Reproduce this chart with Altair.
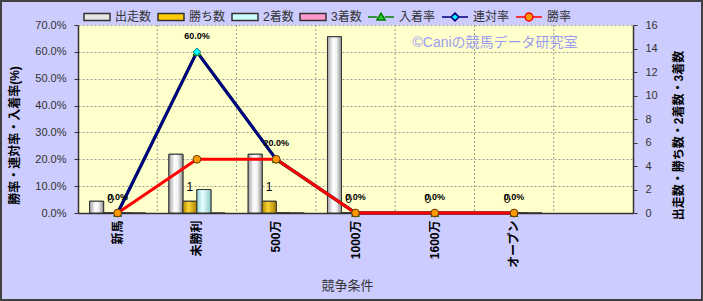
import altair as alt
import pandas as pd

# ---------------- data ----------------
categories = ["新馬", "未勝利", "500万", "1000万", "1600万", "オープン"]
cat_domain = categories + [" "]
starts = [1, 5, 5, 15, 0, 0]
wins = [0, 1, 1, 0, 0, 0]
seconds = [0, 2, 0, 0, 0, 0]
thirds = [0, 0, 0, 0, 0, 0]
place_rate = [0.0, 0.6, 0.2, 0.0, 0.0, 0.0]
rentai_rate = [0.0, 0.6, 0.2, 0.0, 0.0, 0.0]
win_rate = [0.0, 0.2, 0.2, 0.0, 0.0, 0.0]

bar_series = ["出走数", "勝ち数", "2着数", "3着数"]
line_series = ["入着率", "連対率", "勝率"]
all_series = bar_series + line_series
watermark = "©Caniの競馬データ研究室"

bar_rows = []
for s, vals in zip(bar_series, [starts, wins, seconds, thirds]):
    for c, v in zip(categories, vals):
        bar_rows.append({"cat": c, "series": s, "count": v})
bars_df = pd.DataFrame(bar_rows)

rate_rows = []
for s, vals in zip(line_series, [place_rate, rentai_rate, win_rate]):
    for i, (c, v) in enumerate(zip(categories, vals)):
        rate_rows.append({"cat": c, "series": s, "rate": v, "idx": i})
rates_df = pd.DataFrame(rate_rows)

grid_df = pd.DataFrame({"cat": cat_domain[1:]})
wm_df = pd.DataFrame({"t": [watermark]})

# ---------------- styles ----------------
FONT = "Liberation Sans, Noto Sans CJK JP, sans-serif"

rect_path = "M-1,-0.27H1V0.27H-1Z"
tri_path = "M-1,0H-0.3M0.3,0H1M0,-0.3L0.32,0.24L-0.32,0.24Z"
dia_path = "M-1,0H-0.3M0.3,0H1M0,-0.3L0.3,0L0,0.3L-0.3,0Z"
cir_path = "M-1,0H-0.3M0.3,0H1M-0.3,0A0.3,0.3 0 1,0 0.3,0A0.3,0.3 0 1,0 -0.3,0Z"

fill_scale = alt.Scale(domain=all_series,
                       range=["#E6E6E6", "#FFCC00", "#CCFFFF", "#FF99CC",
                              "#33CC33", "#00FFFF", "#FF9900"])
stroke_scale = alt.Scale(domain=all_series,
                         range=["#333333", "#333333", "#333333", "#333333",
                                "#008000", "#000080", "#FF0000"])
shape_scale = alt.Scale(domain=all_series,
                        range=[rect_path, rect_path, rect_path, rect_path,
                               tri_path, dia_path, cir_path])

leg = alt.Legend(title=None, orient="none", legendX=5, legendY=-22,
                 direction="horizontal", symbolSize=676, symbolStrokeWidth=1.5,
                 labelFont=FONT, labelFontSize=12, labelColor="#333333",
                 labelOffset=4, columnPadding=3, gridAlign="none")

x_axis = alt.Axis(labelAngle=270, labelFont=FONT, labelFontSize=12,
                  labelFontWeight="bold", labelColor="#000000", labelPadding=7,
                  ticks=False, grid=False, domainColor="#333333", domainWidth=1.5,
                  title="競争条件", titleFont=FONT, titleFontSize=13,
                  titleFontWeight="normal", titleColor="#333333",
                  titleX=269, titleY=72, titleBaseline="middle", titleAlign="center")

x_scale = alt.Scale(domain=cat_domain, paddingInner=0, paddingOuter=0)


def xenc(**kw):
    return alt.X("cat:N", scale=x_scale, axis=x_axis, **kw)


left_axis = alt.Axis(orient="left", format=".1%",
                     values=[0, 0.1, 0.2, 0.3, 0.4, 0.5, 0.6, 0.7],
                     grid=True, gridColor="#9A9A9A", gridDash=[2, 2],
                     domainColor="#333333", domainWidth=1.5, tickColor="#333333",
                     tickSize=4, labelFont=FONT, labelFontSize=11,
                     labelColor="#333333", labelPadding=8,
                     title="勝率・連対率・入着率(%)", titleFont=FONT,
                     titleFontSize=12, titleFontWeight="bold", titleColor="#000000",
                     titleAngle=270, titleX=-64, titleY=110,
                     titleAlign="center", titleBaseline="middle")

right_axis = alt.Axis(orient="right", values=list(range(0, 17, 2)), grid=False,
                      domainColor="#333333", domainWidth=1.5, tickColor="#333333",
                      tickSize=4, labelFont=FONT, labelFontSize=11,
                      labelColor="#333333", labelPadding=8,
                      title="出走数・勝ち数・2着数・3着数", titleFont=FONT,
                      titleFontSize=12, titleFontWeight="bold", titleColor="#000000",
                      titleAngle=270, titleX=45, titleY=110,
                      titleAlign="center", titleBaseline="middle")

y_count = alt.Y("count:Q", scale=alt.Scale(domain=[0, 16]), axis=right_axis)
y_rate = alt.Y("rate:Q", scale=alt.Scale(domain=[0, 0.7]), axis=left_axis)
x_off = alt.XOffset("series:N", scale=alt.Scale(domain=bar_series,
                                                paddingInner=0, paddingOuter=0.83))


def grad(stops):
    return alt.LinearGradient(gradient="linear",
                              stops=[alt.GradientStop(color=c, offset=o) for o, c in stops],
                              x1=0, x2=1, y1=0, y2=0)


# ---------------- bars group ----------------
vgrid = alt.Chart(grid_df).mark_rule(color="#9A9A9A", strokeDash=[2, 2],
                                      strokeWidth=1).encode(
    x=xenc(bandPosition=0))

bars = alt.Chart(bars_df).mark_bar(stroke="#333333", strokeWidth=1).encode(
    x=xenc(), xOffset=x_off, y=y_count,
    fill=alt.Fill("series:N", scale=fill_scale, legend=leg))

grad_specs = {
    "出走数": [(0, "#A0A0A0"), (0.4, "#FFFFFF"), (0.65, "#F0F0F0"), (1, "#8A8A8A")],
    "勝ち数": [(0, "#B08A00"), (0.4, "#FFD633"), (1, "#A87F00")],
    "2着数": [(0, "#99D6D6"), (0.4, "#E8FFFF"), (1, "#90C8C8")],
}
grad_layers = []
for s, st in grad_specs.items():
    grad_layers.append(
        alt.Chart(bars_df).transform_filter(alt.datum.series == s)
        .mark_bar(fill=grad(st), stroke="#333333", strokeWidth=1)
        .encode(x=xenc(), xOffset=x_off, y=y_count))

count_text = alt.Chart(bars_df).transform_filter(alt.datum.series == "勝ち数").mark_text(
    dy=-14, font=FONT, fontSize=12, color="#000000", baseline="middle").encode(
    x=xenc(), xOffset=x_off, y=y_count, text=alt.Text("count:Q"))

bars_group = alt.layer(vgrid, bars, *grad_layers, count_text)

# ---------------- rates group ----------------
dummy = alt.Chart(rates_df).transform_filter("false").mark_point(
    filled=True, opacity=1, size=676, strokeWidth=1.5).encode(
    x=xenc(), y=y_rate,
    fill=alt.Fill("series:N", scale=fill_scale, legend=leg),
    stroke=alt.Stroke("series:N", scale=stroke_scale, legend=leg),
    shape=alt.Shape("series:N", scale=shape_scale, legend=leg))

line_layers = []
for s in line_series:
    line_layers.append(
        alt.Chart(rates_df).transform_filter(alt.datum.series == s)
        .mark_line(strokeWidth=3)
        .encode(x=xenc(), y=y_rate, order=alt.Order("idx:Q"),
                stroke=alt.Stroke("series:N", scale=stroke_scale, legend=leg)))

marker_styles = {
    "入着率": ("triangle-up", "#33CC33", "#006600"),
    "連対率": ("diamond", "#00FFFF", "#008080"),
    "勝率": ("circle", "#FF9900", "#663300"),
}
marker_layers = []
for s in line_series:
    shp, fc, sc = marker_styles[s]
    marker_layers.append(
        alt.Chart(rates_df).transform_filter(alt.datum.series == s)
        .mark_point(shape=shp, filled=True, fill=fc, stroke=sc, strokeWidth=1,
                    size=60, opacity=1)
        .encode(x=xenc(), y=y_rate))

pct_text = alt.Chart(rates_df).transform_filter(alt.datum.series == "連対率").mark_text(
    dy=-16, font=FONT, fontSize=9, fontWeight="bold", color="#000000",
    baseline="middle").encode(
    x=xenc(), y=y_rate, text=alt.Text("rate:Q", format=".1%"))

wm = alt.Chart(wm_df).mark_text(font=FONT, fontSize=14, color="#9C9CF0",
                                align="center", baseline="middle").encode(
    x=alt.value(417), y=alt.value(18), text="t:N")

rates_group = alt.layer(dummy, *line_layers, *marker_layers, pct_text, wm)

border = alt.Chart(wm_df).mark_rect(filled=False, stroke="#404040", strokeWidth=2).encode(
    x=alt.value(-77), x2=alt.value(624), y=alt.value(-24), y2=alt.value(275))

chart = alt.layer(bars_group, rates_group, border).resolve_scale(
    y="independent").properties(
    width=555, height=188,
    autosize=alt.AutoSizeParams(type="none"),
    padding={"left": 78, "top": 25, "right": 70, "bottom": 88},
).configure(background="#CCCCFF").configure_view(fill="#FFFFCC", stroke=None)

chart.save("out.html", embed_options={"renderer": "svg", "actions": False})
